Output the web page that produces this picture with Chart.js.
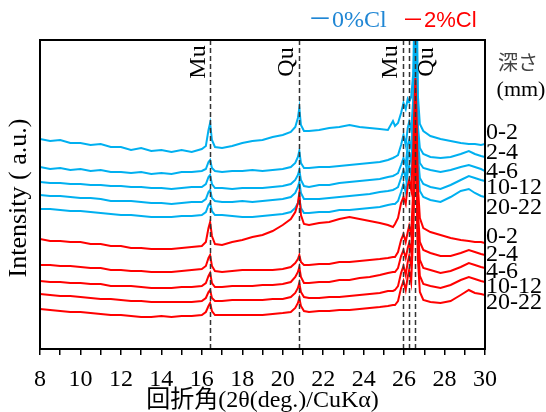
<!DOCTYPE html>
<html>
<head>
<meta charset="utf-8">
<script src="https://cdn.jsdelivr.net/npm/chart.js@4.4.0/dist/chart.umd.min.js"></script>
<style>
  html, body { margin: 0; padding: 0; background: #fff; }
  #wrap { width: 546px; height: 412px; }
</style>
</head>
<body>
<div id="wrap"><canvas id="xrdChart" width="546" height="412"></canvas></div>
<script>
// 2θ positions (deg.) where the patterns were read
const twoTheta = [8, 8.5, 9, 9.5, 10, 10.5, 11, 11.5, 12, 12.5, 13, 13.5, 14, 14.5, 15, 15.5, 16,
  16.2, 16.33, 16.41, 16.5, 16.65, 17, 17.5, 18, 18.5, 19, 19.5, 20,
  20.4, 20.62, 20.75, 20.82, 20.9, 21.05, 21.3, 21.8, 22.3, 22.8, 23.3, 23.8, 24.3, 24.8,
  25.2, 25.45, 25.55, 25.7, 25.85, 25.97, 26.08, 26.18, 26.25, 26.35, 26.45, 26.52, 26.56, 26.61, 26.68, 26.78, 26.95,
  27.3, 27.8, 28.3, 28.8, 29.2, 29.5, 29.8, 30];

// 0%Cl, stacked intensities (a.u.) per depth
const blue0_2 = [210, 208, 209, 206, 206, 204, 205, 202, 202, 199, 201, 198, 199, 197, 199, 197, 200,
  203, 219, 226, 209, 202, 201, 203, 206, 208, 209, 212, 214,
  217, 222, 231, 241, 224, 218, 218, 219, 221, 222, 224, 222, 221, 220,
  219, 228, 223, 226, 236, 246, 240, 250, 247, 252, 275, 349, 549, 389, 254, 225, 218,
  213, 210, 208, 206, 205, 205, 204, 205];
const blue2_4 = [182, 180, 181, 179, 180, 178, 179, 177, 177, 176, 177, 175, 176, 175, 177, 177, 178,
  180, 187, 189, 181, 178, 177, 178, 178, 179, 178, 179, 180,
  182, 186, 192, 198, 186, 181, 181, 182, 182, 183, 184, 185, 186, 187,
  189, 191, 192, 194, 204, 214, 204, 221, 227, 219, 249, 329, 499, 349, 224, 201, 195,
  192, 191, 192, 195, 198, 195, 193, 192];
const blue4_6 = [167, 166, 166, 165, 165, 164, 164, 163, 163, 162, 162, 161, 161, 160, 161, 162, 162,
  165, 172, 174, 165, 161, 161, 160, 161, 161, 161, 162, 163,
  165, 169, 174, 179, 169, 163, 162, 164, 164, 166, 167, 168, 169, 170,
  172, 173, 174, 176, 184, 191, 184, 204, 209, 201, 229, 309, 449, 329, 209, 186, 181,
  179, 177, 179, 182, 184, 182, 180, 178];
const blue10_12 = [154, 153, 153, 152, 151, 151, 150, 148, 148, 148, 147, 146, 146, 145, 146, 147, 147,
  150, 157, 159, 151, 148, 147, 147, 148, 147, 148, 149, 150,
  152, 156, 162, 167, 156, 150, 150, 150, 151, 152, 153, 154, 155, 157,
  158, 159, 160, 162, 171, 179, 171, 191, 197, 187, 214, 289, 409, 309, 194, 171, 165,
  162, 160, 164, 169, 173, 171, 169, 168];
const blue20_22 = [140, 140, 139, 138, 138, 137, 136, 135, 134, 134, 133, 132, 132, 132, 133, 133, 134,
  137, 144, 146, 138, 134, 134, 133, 132, 132, 133, 134, 135,
  137, 141, 146, 151, 141, 136, 136, 137, 137, 139, 139, 140, 141, 142,
  144, 145, 145, 148, 157, 165, 157, 177, 183, 174, 199, 269, 369, 289, 181, 158, 152,
  149, 147, 152, 158, 160, 156, 153, 152];

// 2%Cl, stacked intensities (a.u.) per depth
const red0_2 = [110, 108, 108, 107, 107, 105, 105, 103, 103, 101, 101, 100, 100, 100, 101, 102, 103,
  107, 121, 127, 113, 105, 104, 107, 109, 112, 114, 118, 124,
  130, 137, 146, 156, 134, 125, 124, 126, 127, 130, 132, 130, 128, 126,
  124, 122, 125, 131, 146, 152, 145, 163, 169, 159, 199, 249, 271, 239, 164, 131, 121,
  117, 114, 111, 109, 108, 107, 107, 106];
const red2_4 = [84, 84, 83, 83, 82, 81, 81, 79, 79, 78, 78, 77, 77, 77, 78, 79, 80,
  83, 91, 94, 83, 78, 77, 78, 79, 79, 79, 79, 80,
  82, 86, 90, 94, 87, 84, 84, 85, 85, 87, 87, 88, 89, 90,
  91, 92, 92, 97, 109, 115, 107, 117, 123, 114, 159, 224, 254, 219, 139, 107, 99,
  96, 93, 93, 96, 99, 97, 95, 94];
const red4_6 = [68, 67, 67, 66, 66, 65, 65, 63, 63, 63, 62, 61, 61, 61, 62, 62, 63,
  66, 73, 76, 66, 62, 62, 63, 63, 63, 64, 64, 65,
  67, 72, 77, 82, 72, 66, 66, 67, 67, 69, 69, 71, 72, 74,
  76, 77, 77, 81, 93, 99, 91, 101, 106, 97, 144, 209, 239, 204, 121, 89, 81,
  79, 76, 78, 82, 86, 84, 82, 81];
const red10_12 = [55, 54, 53, 53, 52, 51, 50, 50, 49, 48, 48, 47, 47, 47, 47, 47, 48,
  51, 57, 59, 51, 48, 48, 49, 49, 49, 49, 50, 50,
  52, 56, 61, 66, 57, 52, 51, 51, 52, 52, 53, 54, 55, 56,
  58, 58, 59, 63, 76, 83, 74, 87, 93, 83, 129, 194, 229, 189, 106, 73, 65,
  63, 61, 64, 69, 72, 70, 68, 67];
const red20_22 = [40, 39, 38, 37, 37, 36, 35, 34, 34, 33, 32, 32, 33, 32, 33, 33, 34,
  37, 43, 46, 38, 34, 34, 34, 34, 34, 34, 35, 36,
  37, 41, 46, 51, 43, 38, 37, 38, 38, 39, 39, 40, 41, 42,
  43, 44, 44, 48, 61, 68, 59, 72, 79, 67, 114, 179, 214, 174, 91, 57, 49,
  47, 46, 48, 54, 59, 56, 55, 54];

const depthLabels = ['0-2', '2-4', '4-6', '10-12', '20-22'];
const blueSeries = [blue0_2, blue2_4, blue4_6, blue10_12, blue20_22];
const redSeries = [red0_2, red2_4, red4_6, red10_12, red20_22];

// reference peaks (2θ) and phase names
const peakLines = [16.41, 20.82, 25.97, 26.25, 26.56];
const phaseNames = ['Mu', 'Qu', 'Mu', 'Qu'];
const phasePos = [16.41, 20.82, 25.97, 26.56];

// layout / style
const SERIF = "'Liberation Serif', 'Noto Sans CJK JP', serif";
const BLUE = '#00b0f0';
const RED = '#ff0000';
const phaseOffset = [-11, -13, -13, 11];
const blueLabelY = [133, 153, 172, 188, 208];
const redLabelY = [237, 255, 272, 287, 303];

function toPoints(vals) {
  return vals.map((v, i) => ({ x: twoTheta[i], y: v }));
}

const datasets = [];
redSeries.forEach((vals, i) => {
  datasets.push({ label: '2%Cl ' + depthLabels[i], data: toPoints(vals), borderColor: RED,
    borderWidth: 2, pointRadius: 0, tension: 0, fill: false });
});
blueSeries.forEach((vals, i) => {
  datasets.push({ label: '0%Cl ' + depthLabels[i], data: toPoints(vals), borderColor: BLUE,
    borderWidth: 2, pointRadius: 0, tension: 0, fill: false });
});

// text, dashed reference lines and frame
const annotate = {
  id: 'annotate',
  afterDatasetsDraw(chart) {
    const { ctx, chartArea: a, scales: { x } } = chart;
    ctx.save();

    ctx.strokeStyle = '#333';
    ctx.lineWidth = 1.5;
    ctx.setLineDash([5, 3]);
    peakLines.forEach(p => {
      const px = Math.round(x.getPixelForValue(p)) + 0.5;
      ctx.beginPath();
      ctx.moveTo(px, a.top);
      ctx.lineTo(px, a.bottom);
      ctx.stroke();
    });
    ctx.setLineDash([]);

    ctx.strokeStyle = '#000';
    ctx.lineWidth = 2;
    ctx.strokeRect(a.left, a.top, a.right - a.left, a.bottom - a.top);

    ctx.fillStyle = '#000';
    ctx.textBaseline = 'middle';
    ctx.textAlign = 'center';
    ctx.font = '24px ' + SERIF;
    phaseNames.forEach((name, i) => {
      ctx.save();
      ctx.translate(x.getPixelForValue(phasePos[i]) + phaseOffset[i], 62);
      ctx.rotate(-Math.PI / 2);
      ctx.fillText(name, 0, 0);
      ctx.restore();
    });

    ctx.textAlign = 'left';
    depthLabels.forEach((d, i) => {
      ctx.fillText(d, a.right + 1, blueLabelY[i]);
      ctx.fillText(d, a.right + 1, redLabelY[i]);
    });

    ctx.textAlign = 'center';
    ctx.fillStyle = '#444';
    ctx.font = "20px 'Noto Sans CJK JP'";
    ctx.fillText('深さ', 518, 62);
    ctx.fillStyle = '#000';
    ctx.font = '22px ' + SERIF;
    ctx.fillText('(mm)', 521, 90);

    ctx.textAlign = 'left';
    ctx.fillStyle = '#1f86d4';
    ctx.font = '24px ' + SERIF;
    ctx.fillText('－0%Cl', 308, 21);
    ctx.fillStyle = RED;
    ctx.font = "22px 'Liberation Sans', 'Noto Sans CJK JP', sans-serif";
    ctx.fillText('－2%Cl', 402, 21);

    ctx.fillStyle = '#000';
    ctx.textAlign = 'center';
    ctx.font = '24px ' + SERIF;
    ctx.fillText('回折角(2θ(deg.)/CuKα)', (a.left + a.right) / 2, 401);

    ctx.save();
    ctx.translate(19, 198);
    ctx.rotate(-Math.PI / 2);
    ctx.font = '26px ' + SERIF;
    ctx.fillText('Intensity ( a.u.)', 0, 0);
    ctx.restore();

    ctx.restore();
  }
};

const ctx = document.getElementById('xrdChart').getContext('2d');
const xrdChart = new Chart(ctx, {
  type: 'line',
  data: { datasets },
  options: {
    responsive: false,
    animation: false,
    layout: { padding: { left: 40, right: 61, top: 40, bottom: 0 } },
    plugins: { legend: { display: false }, tooltip: { enabled: false } },
    scales: {
      x: {
        type: 'linear',
        min: 8,
        max: 30,
        afterFit: s => { s.height = 63; },
        ticks: {
          stepSize: 1,
          autoSkip: false,
          maxRotation: 0,
          padding: 10,
          color: '#000',
          font: { family: SERIF, size: 24 },
          callback: v => (v % 2 === 0 ? v : '')
        },
        grid: { drawOnChartArea: false, drawTicks: true, tickLength: 6, color: '#000', lineWidth: 1.5 },
        border: { display: true, color: '#000', width: 2 }
      },
      y: { display: false, min: 0, max: 309 }
    }
  },
  plugins: [annotate]
});
</script>
</body>
</html>
